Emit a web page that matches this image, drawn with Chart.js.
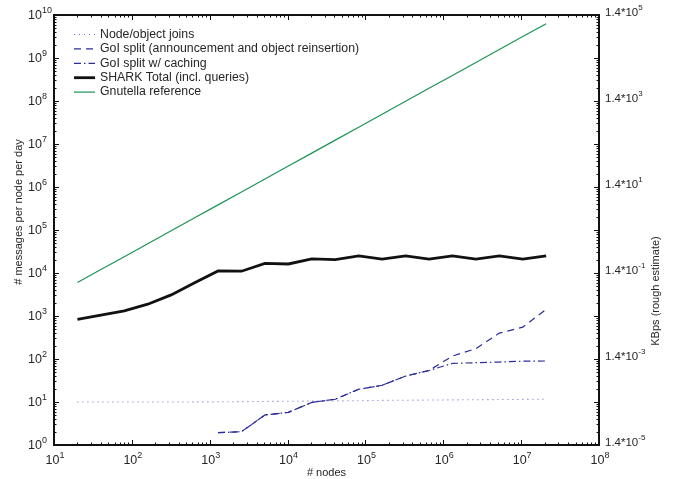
<!DOCTYPE html>
<html>
<head>
<meta charset="utf-8">
<script src="https://cdn.jsdelivr.net/npm/chart.js@4/dist/chart.umd.min.js"></script>
<style>
  html, body { margin: 0; padding: 0; background: #fff; }
  #wrap { width: 677px; height: 479px; }
</style>
</head>
<body>
<div id="wrap"><canvas id="chart"></canvas></div>
<script>
// --- Data ---
const nodeCounts = [20, 40, 80, 160, 320, 640, 1280, 2560, 5120, 10240, 20480, 40960, 81920,
    163840, 327680, 655360, 1310720, 2621440, 5242880, 10485760, 20971520];
const joinMsgs = [10, 10, 10, 10, 10, 10.05, 10.1, 10.2, 10.3, 10.4, 10.5, 10.6, 10.7,
    10.9, 11.0, 11.1, 11.2, 11.3, 11.4, 11.5, 11.6];
const golSplit = [null, null, null, null, null, null, 1.93, 2.04, 5.0, 5.75, 9.8, 11.6, 19.8,
    24.5, 40, 54, 117, 174, 400, 550, 1430];
const golCaching = [null, null, null, null, null, null, 1.93, 2.04, 5.0, 5.75, 9.8, 11.6, 19.8,
    24.5, 40, 54, 79, 82, 85, 89, 90];
const sharkTotal = [840, 1050, 1320, 1880, 3100, 5900, 11200, 11000, 16800, 16200, 21400, 20500, 25000,
    21000, 25000, 21000, 25000, 21000, 25000, 21000, 25000];
const gnutella = [6000, 12000, 24000, 48000, 96000, 192000, 384000, 768000, 1536000, 3070000,
    6140000, 12300000, 24600000, 49200000, 98300000, 197000000, 393000000, 786000000,
    1570000000, 3150000000, 6290000000];

const xTickExps = [1, 2, 3, 4, 5, 6, 7, 8];
const yTickExps = [0, 1, 2, 3, 4, 5, 6, 7, 8, 9, 10];
const rightTickExps = [-5, -3, -1, 1, 3, 5];   // labels "1.4*10^k"
const legendLabels = ['Node/object joins', 'GoI split (announcement and object reinsertion)',
    'GoI split w/ caching', 'SHARK Total (incl. queries)', 'Gnutella reference'];

const FONT = '"Liberation Sans", Arial, Helvetica, sans-serif';
const TXT = '#262626';

const styles = [
    { color: '#6a6ad0', width: 1.1, dash: [1, 4] },
    { color: '#2c2c9c', width: 1.2, dash: [7, 5] },
    { color: '#2c2c9c', width: 1.2, dash: [7, 3, 1.5, 3] },
    { color: '#111111', width: 2.8, dash: [] },
    { color: '#1b9455', width: 1.2, dash: [] }
];
const series = [joinMsgs, golSplit, golCaching, sharkTotal, gnutella];

const toPoints = (vals) => nodeCounts.map((n, i) => ({ x: n, y: vals[i] }));

// superscript helper: base + raised exponent
const drawPow = (ctx, base, exp, x, y, align, size) => {
    const small = Math.round(size * 0.72);
    ctx.font = size + 'px ' + FONT;
    const wb = ctx.measureText(base).width;
    ctx.font = small + 'px ' + FONT;
    const we = ctx.measureText(exp).width;
    let start;
    if (align === 'center') start = x - (wb + we) / 2;
    else if (align === 'baseRight') start = x - wb;
    else start = x;
    ctx.textAlign = 'left';
    ctx.textBaseline = 'middle';
    ctx.font = size + 'px ' + FONT;
    ctx.fillText(base, start, y);
    ctx.font = small + 'px ' + FONT;
    ctx.fillText(exp, start + wb, y - size * 0.45);
};

const decor = {
    id: 'decor',
    afterDraw(chart) {
        const { ctx, chartArea: a, scales: { x, y } } = chart;
        ctx.save();
        ctx.strokeStyle = '#111';
        ctx.fillStyle = TXT;

        // inward ticks on all four sides
        ctx.lineWidth = 1;
        ctx.beginPath();
        for (let d = 1; d <= 8; d++) {
            for (let m = 1; m <= 9; m++) {
                if (d === 8 && m > 1) break;
                const px = Math.round(x.getPixelForValue(m * Math.pow(10, d))) + 0.5;
                const len = m === 1 ? 5 : 2.5;
                ctx.moveTo(px, a.bottom); ctx.lineTo(px, a.bottom - len);
                ctx.moveTo(px, a.top); ctx.lineTo(px, a.top + len);
            }
        }
        for (let d = 0; d <= 10; d++) {
            for (let m = 1; m <= 9; m++) {
                if (d === 10 && m > 1) break;
                const py = Math.round(y.getPixelForValue(m * Math.pow(10, d))) + 0.5;
                const len = m === 1 ? 5 : 2.5;
                ctx.moveTo(a.left, py); ctx.lineTo(a.left + len, py);
                ctx.moveTo(a.right, py); ctx.lineTo(a.right - len, py);
            }
        }
        ctx.stroke();

        // frame
        ctx.lineWidth = 2;
        ctx.strokeRect(a.left, a.top, a.right - a.left, a.bottom - a.top);

        // x tick labels
        xTickExps.forEach(e => drawPow(ctx, '10', String(e), x.getPixelForValue(Math.pow(10, e)) + 1, a.bottom + 16, 'center', 12.5));
        // left y tick labels
        yTickExps.forEach(e => drawPow(ctx, '10', String(e), 42, y.getPixelForValue(Math.pow(10, e)) + 1, 'baseRight', 12.5));
        // right tick labels
        rightTickExps.forEach(e => {
            const py = y.getPixelForValue(Math.pow(10, e + 5)) - 2;
            drawPow(ctx, '1.4*10', String(e), a.right + 6, py, 'left', 11.5);
        });

        // axis titles
        ctx.font = '11px ' + FONT;
        ctx.textAlign = 'center';
        ctx.textBaseline = 'middle';
        ctx.fillText('# nodes', (a.left + a.right) / 2, 473);
        ctx.save();
        ctx.translate(19, 212);
        ctx.rotate(-Math.PI / 2);
        ctx.fillText('# messages per node per day', 0, 0);
        ctx.restore();
        ctx.save();
        ctx.translate(656, 291);
        ctx.rotate(-Math.PI / 2);
        ctx.fillText('KBps (rough estimate)', 0, 0);
        ctx.restore();

        // legend
        ctx.textAlign = 'left';
        ctx.font = '12.3px ' + FONT;
        legendLabels.forEach((label, i) => {
            const ly = 34.5 + i * 14.4;
            const st = styles[i];
            ctx.strokeStyle = st.color;
            ctx.lineWidth = st.width;
            ctx.setLineDash(st.dash);
            ctx.beginPath();
            ctx.moveTo(74, ly); ctx.lineTo(95, ly);
            ctx.stroke();
            ctx.setLineDash([]);
            ctx.fillStyle = TXT;
            ctx.fillText(label, 100, ly);
        });
        ctx.restore();
    }
};

new Chart(document.getElementById('chart'), {
    type: 'line',
    data: {
        datasets: series.map((vals, i) => ({
            label: legendLabels[i],
            data: toPoints(vals),
            borderColor: styles[i].color,
            borderWidth: styles[i].width,
            borderDash: styles[i].dash,
            pointRadius: 0,
            tension: 0,
            fill: false,
            spanGaps: false
        }))
    },
    options: {
        responsive: true,
        maintainAspectRatio: false,
        animation: false,
        layout: { padding: { left: 54, right: 78, top: 15, bottom: 34 } },
        plugins: { legend: { display: false }, tooltip: { enabled: false } },
        scales: {
            x: { type: 'logarithmic', min: 10, max: 1e8, display: false },
            y: { type: 'logarithmic', min: 1, max: 1e10, display: false }
        }
    },
    plugins: [decor]
});
</script>
</body>
</html>
